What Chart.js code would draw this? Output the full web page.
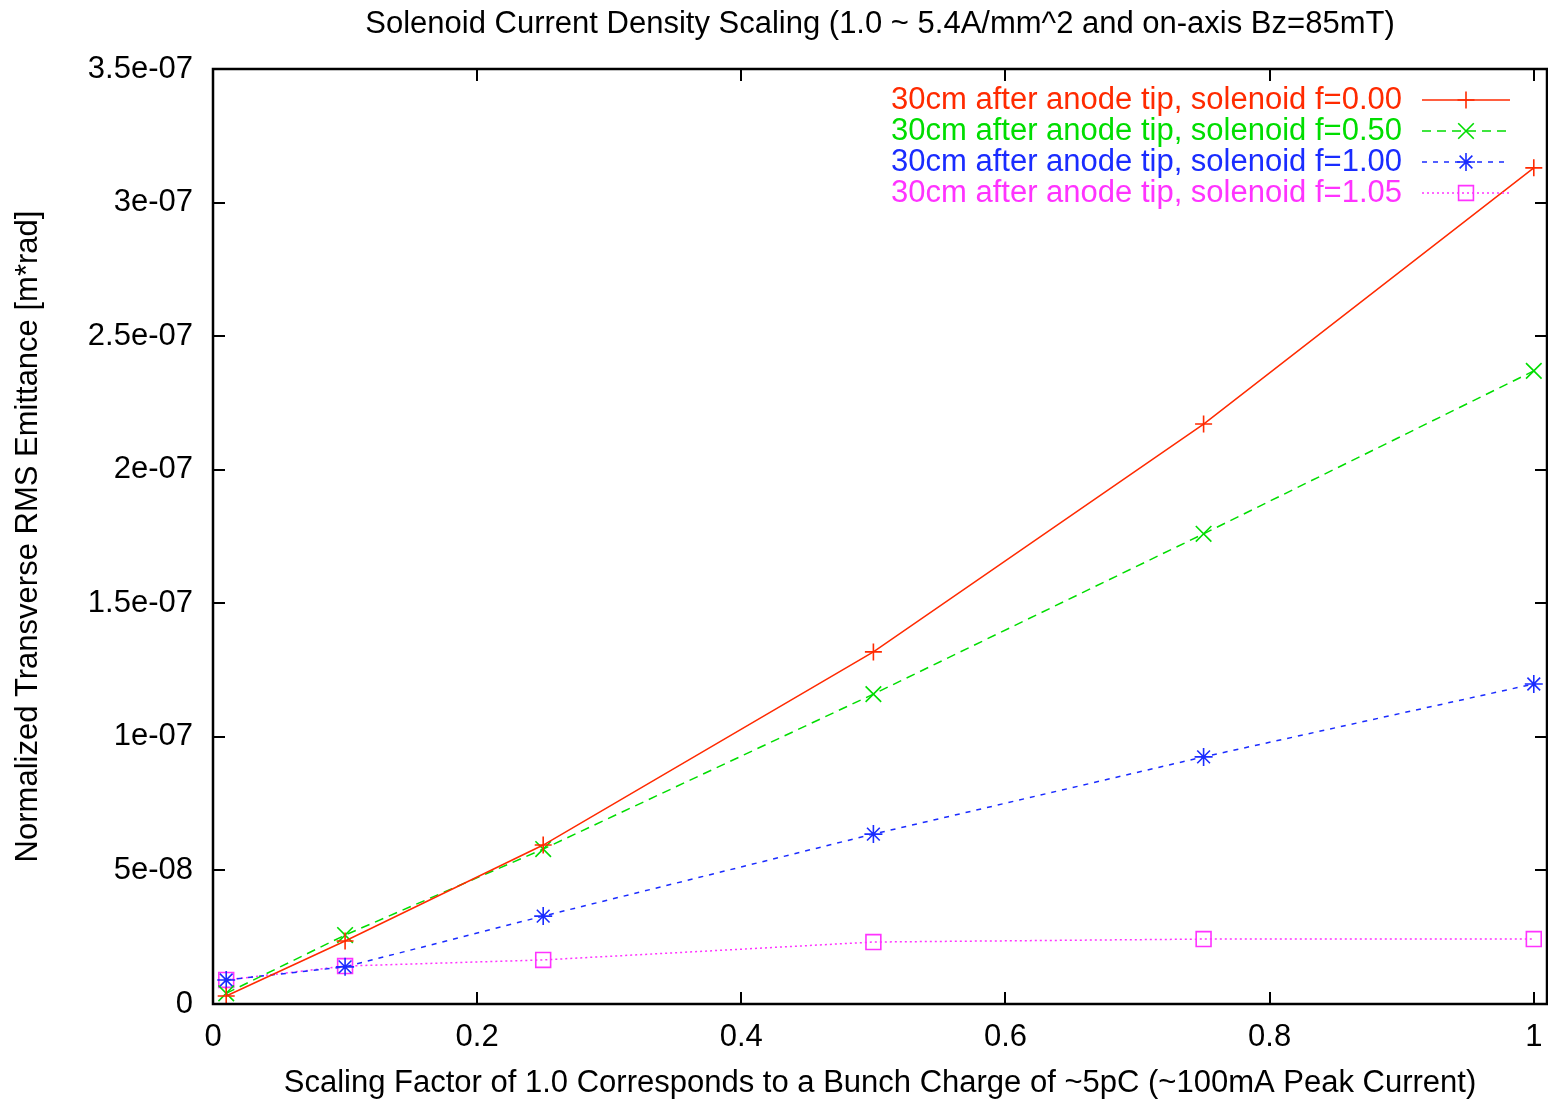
<!DOCTYPE html>
<html>
<head>
<meta charset="utf-8">
<script src="https://cdn.jsdelivr.net/npm/chart.js@4.4.0/dist/chart.umd.min.js"></script>
<style>
  html,body{margin:0;padding:0;background:#fff;}
  #wrap{width:1548px;height:1101px;}
</style>
</head>
<body>
<div id="wrap"><canvas id="chart" width="1548" height="1101"></canvas></div>
<script>
// ---- data ----
const xs = [0.01, 0.1, 0.25, 0.5, 0.75, 1.0];
const f000 = [3.0e-9, 2.36e-8, 5.95e-8, 1.318e-7, 2.171e-7, 3.13e-7];
const f050 = [4.0e-9, 2.58e-8, 5.80e-8, 1.16e-7, 1.76e-7, 2.37e-7];
const f100 = [9.0e-9, 1.39e-8, 3.29e-8, 6.36e-8, 9.25e-8, 1.198e-7];
const f105 = [9.0e-9, 1.42e-8, 1.65e-8, 2.32e-8, 2.43e-8, 2.43e-8];
const xTicks = [0, 0.2, 0.4, 0.6, 0.8, 1.0];
const yTicks = [0, 5e-8, 1e-7, 1.5e-7, 2e-7, 2.5e-7, 3e-7, 3.5e-7];
const seriesLabels = [
  '30cm after anode tip, solenoid f=0.00',
  '30cm after anode tip, solenoid f=0.50',
  '30cm after anode tip, solenoid f=1.00',
  '30cm after anode tip, solenoid f=1.05'
];

const FONT = "'Liberation Sans', Helvetica, Arial, sans-serif";
const FS = 31;
const PLOT_RIGHT = 1547;
const pts = arr => xs.map((x,i)=>({x, y:arr[i]}));

// gnuplot "%g" style labels
function gfmt(v){
  if(v===0) return '0';
  if(Math.abs(v) >= 1e-4) return String(Number(v.toPrecision(6)));
  return Number(v.toPrecision(6)).toExponential().replace(/e([+-])(\d)$/, 'e$10$2');
}

function ds(label, data, color, dash, style, radius){
  return {
    label, data: pts(data),
    borderColor: color, backgroundColor: 'rgba(0,0,0,0)',
    borderWidth: 1.5, borderDash: dash,
    showLine: true, tension: 0,
    pointStyle: style, pointRadius: radius, pointHoverRadius: radius,
    pointBorderColor: color, pointBackgroundColor: 'rgba(0,0,0,0)',
    pointBorderWidth: 1.6
  };
}

// gnuplot frame: full border + inward ticks on all four sides + right-aligned legend
const framePlugin = {
  id: 'frame',
  afterLayout(chart){
    // gnuplot lets the frame run to the right edge; chart.js keeps room for the last label
    const a = chart.chartArea, x = chart.scales.x;
    a.right = PLOT_RIGHT; a.width = a.right - a.left;
    x.right = PLOT_RIGHT; x.width = x.right - x.left;
    x.configure();
    if(chart.titleBlock){
      chart.titleBlock.left = a.left; chart.titleBlock.right = a.right;
      chart.titleBlock.width = a.width;
    }
  },
  afterDatasetsDraw(chart){
    const {ctx, chartArea:a, scales:{x, y}} = chart;
    ctx.save();
    ctx.strokeStyle = '#000';
    ctx.lineWidth = 2;
    const tl = 12;
    ctx.beginPath();
    xTicks.forEach(v=>{
      const px = Math.round(x.getPixelForValue(v));
      ctx.moveTo(px, a.bottom); ctx.lineTo(px, a.bottom - tl);
      ctx.moveTo(px, a.top); ctx.lineTo(px, a.top + tl);
    });
    yTicks.forEach(v=>{
      const py = Math.round(y.getPixelForValue(v));
      ctx.moveTo(a.left, py); ctx.lineTo(a.left + tl, py);
      ctx.moveTo(a.right, py); ctx.lineTo(a.right - tl, py);
    });
    ctx.stroke();
    ctx.lineWidth = 2.5;
    ctx.strokeRect(a.left, a.top, a.right - a.left, a.bottom - a.top);

    // legend
    ctx.font = FS + 'px ' + FONT;
    ctx.textAlign = 'right';
    ctx.textBaseline = 'middle';
    chart.data.datasets.forEach((d,i)=>{
      const ry = a.top + 31 + i*31;
      ctx.fillStyle = d.borderColor;
      ctx.fillText(d.label, a.right - 145, ry);
      ctx.strokeStyle = d.borderColor;
      ctx.lineWidth = d.borderWidth;
      ctx.setLineDash(d.borderDash);
      ctx.beginPath();
      ctx.moveTo(a.right - 125, ry); ctx.lineTo(a.right - 37, ry);
      ctx.stroke();
      ctx.setLineDash([]);
      ctx.lineWidth = d.pointBorderWidth;
      ctx.fillStyle = 'rgba(0,0,0,0)';
      Chart.helpers.drawPoint(ctx, {pointStyle:d.pointStyle, radius:d.pointRadius, borderWidth:d.pointBorderWidth, rotation:0}, a.right - 81, ry);
    });
    ctx.restore();
  }
};

new Chart(document.getElementById('chart'), {
  type: 'scatter',
  data: {
    datasets: [
      ds(seriesLabels[0], f000, '#ff2a00', [], 'cross', 8.5),
      ds(seriesLabels[1], f050, '#00dd00', [9,6], 'crossRot', 11),
      ds(seriesLabels[2], f100, '#1a2cff', [5,6], 'star', 9),
      ds(seriesLabels[3], f105, '#ff33ff', [2,3], 'rect', 10.5)
    ]
  },
  options: {
    responsive: false,
    animation: false,
    events: [],
    layout: {padding: {top: 0, right: 1, left: 0, bottom: 0}},
    plugins: {
      legend: {display: false},
      tooltip: {enabled: false},
      title: {
        display: true, fullSize: false,
        text: 'Solenoid Current Density Scaling (1.0 ~ 5.4A/mm^2 and on-axis Bz=85mT)',
        color: '#000', font: {family: FONT, size: FS, weight: 'normal'},
        padding: {top: 5.5, bottom: 26.3}
      }
    },
    scales: {
      x: {
        type: 'linear', min: 0, max: 1.01,
        afterBuildTicks: s => { s.ticks = xTicks.map(v=>({value:v})); },
        afterFit: s => { s.height = 97; s.paddingRight = 0; s.paddingLeft = 0; },
        grid: {display: false, drawTicks: false},
        border: {display: false},
        ticks: {color: '#000', font: {family: FONT, size: FS}, padding: 15, maxRotation: 0, callback: v => gfmt(v)},
        title: {display: true, text: 'Scaling Factor of 1.0 Corresponds to a Bunch Charge of ~5pC (~100mA Peak Current)',
                color: '#000', font: {family: FONT, size: FS, lineHeight: 1.1}, padding: {top: 0, bottom: 0}}
      },
      y: {
        type: 'linear', min: 0, max: 3.5e-7,
        afterBuildTicks: s => { s.ticks = yTicks.map(v=>({value:v})); },
        afterFit: s => { s.width = 213; s.paddingTop = 0; s.paddingBottom = 0; },
        grid: {display: false, drawTicks: false},
        border: {display: false},
        ticks: {color: '#000', font: {family: FONT, size: FS}, padding: 20, callback: v => gfmt(v)},
        title: {display: true, text: 'Normalized Transverse RMS Emittance [m*rad]',
                color: '#000', font: {family: FONT, size: FS}, padding: {top: 9.5, bottom: 0}}
      }
    }
  },
  plugins: [framePlugin]
});
</script>
</body>
</html>
